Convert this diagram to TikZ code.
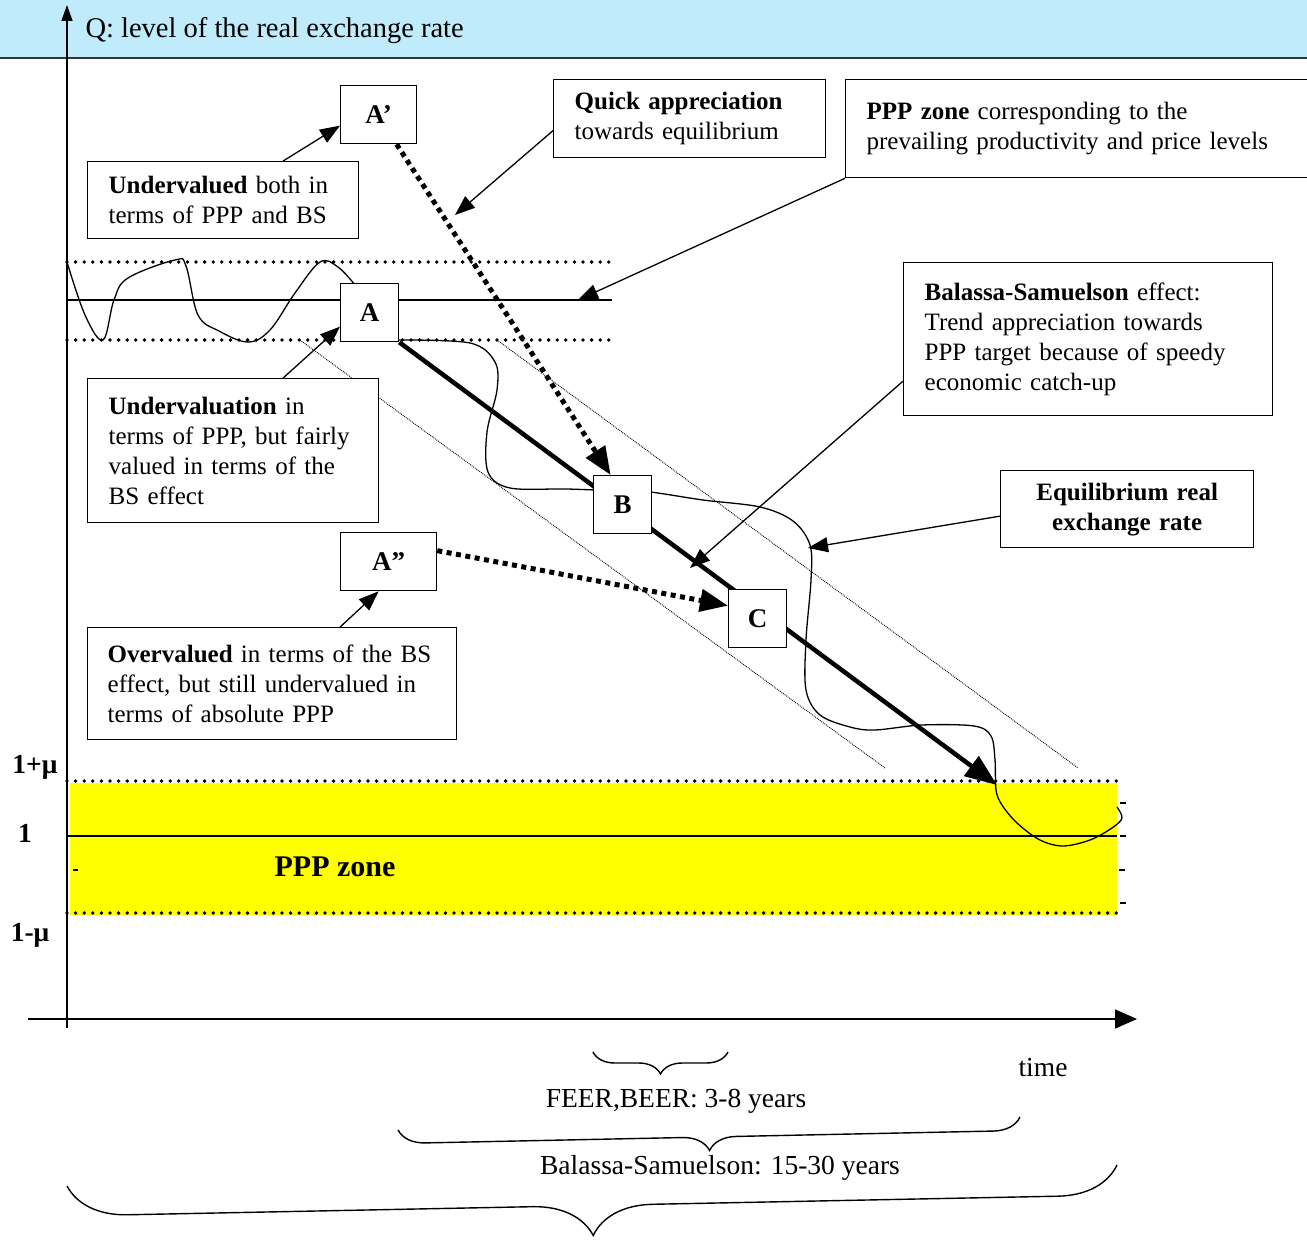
\documentclass[tikz,border=0pt]{standalone}
\usepackage{fontspec}
\setmainfont{Liberation Serif}
\usepackage{tikz}
\usetikzlibrary{arrows.meta}
\usetikzlibrary{decorations.pathreplacing}
\usetikzlibrary{backgrounds}
\definecolor{skyband}{RGB}{191,235,251}
\definecolor{pppyellow}{RGB}{255,255,0}

\begin{document}
\begin{tikzpicture}[x=1pt,y=-1pt,>={Triangle[length=20pt,width=15pt]},
        every node/.style={font=\fontsize{25}{30}\selectfont},
        note/.style={draw,line width=1.3pt,fill=white,anchor=north west,align=left,inner xsep=21pt,inner ysep=0pt},
        letter/.style={draw,line width=1.3pt,fill=white,anchor=north west,inner sep=0pt,minimum height=58pt,
            font=\fontsize{27}{30}\selectfont\bfseries},
        axislabel/.style={font=\fontsize{27.5}{30}\selectfont},
        callout/.style={->,line width=1.3pt},
        bigdots/.style={line width=3.8pt,line cap=round,dash pattern=on 0pt off 8.6pt},
        finedots/.style={line width=0.9pt,densely dotted},
        jump/.style={line width=5pt,dash pattern=on 5pt off 4.5pt,-{Triangle[length=28pt,width=22pt]}},
        span/.style={line width=1.4pt,decorate}]
        \useasboundingbox (0,0) rectangle (1307,1241);

        \def\axX{67}
        \def\axY{1019}

        \node[letter,minimum width=58pt] (A) at (340,283) {A};
        \node[letter,minimum width=76pt] (A1) at (340,85) {A’};
        \node[letter,minimum width=96pt] (A2) at (340,532) {A”};
        \node[letter,minimum width=58pt] (B) at (593,475) {B};
        \node[letter,minimum width=58pt] (C) at (728,589) {C};

        \node[note,text width=229pt,minimum height=77pt] (under) at (87,161)
            {\textbf{Undervalued} both in\\terms of PPP and BS};
        \node[note,text width=230pt,minimum height=78pt] (quick) at (553,79)
            {\textbf{Quick appreciation}\\towards equilibrium};
        \node[note,text width=440pt,minimum height=98pt] (zone) at (845,79)
            {\textbf{PPP zone} corresponding to the\\prevailing productivity and price levels\\[22pt]};
        \node[note,text width=327pt,minimum height=153pt] (bs) at (903,262)
            {\textbf{Balassa-Samuelson} effect:\\Trend appreciation towards\\PPP target because of speedy\\economic catch-up\\[16pt]};
        \node[note,text width=211pt,minimum height=77pt,align=center,font=\fontsize{25}{30}\selectfont\bfseries] (eq) at (1000,470)
            {Equilibrium real\\exchange rate};
        \node[note,text width=249pt,minimum height=144pt] (fair) at (87,378)
            {\textbf{Undervaluation} in\\terms of PPP, but fairly\\valued in terms of the\\BS effect};
        \node[note,inner xsep=20pt,text width=329pt,minimum height=112pt] (over) at (87,627)
            {\textbf{Overvalued} in terms of the BS\\effect, but still undervalued in\\terms of absolute PPP};

        \node[axislabel,anchor=west,font=\fontsize{28.5}{30}\selectfont] (qlabel) at (82,31) {Q: level of the real exchange rate};
        \node[axislabel,font=\fontsize{27.5}{30}\selectfont\bfseries] (upper) at (35,767) {1+μ};
        \node[axislabel,font=\fontsize{27.5}{30}\selectfont\bfseries] (one) at (25,833) {1};
        \node[axislabel,font=\fontsize{27.5}{30}\selectfont\bfseries] (lower) at (30,935) {1-μ};
        \node[font=\fontsize{30}{30}\selectfont\bfseries] (ppp) at (335,867) {PPP zone};
        \node[axislabel] (time) at (1043,1068) {time};
        \node[axislabel] (feer) at (676,1101) {FEER,BEER: 3-8 years};
        \node[axislabel] (bsyears) at (720,1168) {Balassa-Samuelson: 15-30 years};

        \coordinate (qtip) at (455,215);
        \coordinate (ztip) at (578,300);
        \coordinate (btip) at (690,568);
        \coordinate (etip) at (808,548);
        \coordinate (trend) at (997,785);

        \begin{scope}[on background layer]
            \fill[skyband] (0,0) rectangle (1307,58);
            \draw[line width=1.2pt,black!80] (0,58) -- (1307,58);
            \fill[pppyellow] (70,783) rectangle (1117,915);

            \draw[bigdots] (\axX,262) -- (612,262);
            \draw[bigdots] (\axX,340) -- (612,340);
            \draw[line width=1.2pt] (\axX,300) -- (612,300);
            \draw[bigdots] (\axX,781) -- (1117,781);
            \draw[bigdots] (\axX,913) -- (1117,913);
            \draw[line width=1.4pt] (\axX,836) -- (1117,836);

            \draw[finedots] (300,340) -- (885,768);
            \draw[finedots] (497,340) -- (1078,768);

            \draw[line width=1.2pt] (1120,803) -- (1126,803);
            \draw[line width=1.2pt] (1120,836) -- (1126,836);
            \draw[line width=2pt] (1119,870) -- (1125,870);
            \draw[line width=1.2pt] (1120,903) -- (1126,903);
            \draw[line width=1.2pt] (73,870) -- (78,870);

            \draw[line width=1.3pt] plot[smooth,tension=0.6] coordinates {
                (67,262) (85,315) (103,340) (114,300) (128,278) (175,260) (186,266)
                (198,315) (219,331) (248,342) (270,330) (295,293) (320,262) (338,267) (355,285)};
            \draw[line width=1.3pt] plot[smooth,tension=0.55] coordinates {
                (398,340) (470,343) (495,362) (497,390) (487,432) (488,472) (510,488) (567,489)
                (620,491) (650,492) (703,500) (760,507) (793,521) (810,545) (811,580)
                (806,640) (806,690) (820,715) (850,727) (875,730) (922,725) (974,726)
                (991,736) (995,760) (996,790) (1002,805) (1017,823) (1040,840) (1063,846)
                (1090,840) (1112,828) (1122,818) (1117,807)};

            \draw[line width=4.5pt,-{Triangle[length=32pt,width=24pt]}] (A.south east) -- (trend);
        \end{scope}

        % axes
        \draw[line width=1.6pt,-{Triangle[length=16pt,width=11pt]}] (\axX,1028) -- (\axX,5);
        \draw[line width=1.6pt,-{Triangle[length=22pt,width=19pt]}] (28,\axY) -- (1137,\axY);

        \draw[jump] ([xshift=18pt]A1.south) -- ([xshift=-12pt]B.north);
        \draw[jump] ([yshift=11pt]A2.east) -- ([yshift=13pt]C.west);

        \draw[callout] ([xshift=60pt]under.north) -- ([yshift=-11pt]A1.west);
        \draw[callout] ([yshift=-12pt]quick.west) -- (qtip);
        \draw[callout] (zone.south west) -- (ztip);
        \draw[callout] ([yshift=-42pt]bs.west) -- (btip);
        \draw[callout] ([yshift=-7pt]eq.west) -- (etip);
        \draw[callout] ([xshift=50pt]fair.north) -- ([yshift=-14pt]A.west);
        \draw[callout] ([xshift=68pt]over.north) -- ([xshift=-10pt]A2.south);

        \draw[span,decoration={brace,amplitude=22pt}] (728,1052) -- (593,1052);
        \draw[span,decoration={brace,amplitude=27pt}] (1020,1117) -- (398,1130);
        \draw[span,decoration={brace,amplitude=60pt}] (1117,1165) -- (67,1186);

    \end{tikzpicture}
\end{document}
